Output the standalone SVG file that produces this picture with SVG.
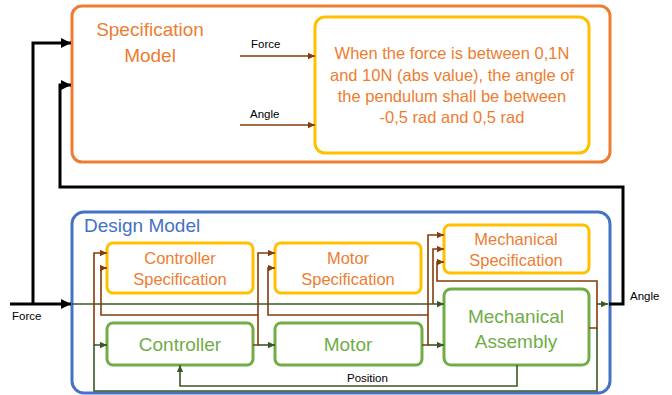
<svg xmlns="http://www.w3.org/2000/svg" width="672" height="395" viewBox="0 0 672 395">
<style>
  text { font-family: "Liberation Sans", Arial, sans-serif; }
  .orange { fill: none; stroke: #ED7D31; stroke-width: 3; }
  .yellow { fill: none; stroke: #FFC000; stroke-width: 3; }
  .green { fill: none; stroke: #70AD47; stroke-width: 3; }
  .blue { fill: none; stroke: #4472C4; stroke-width: 3; }
  .t-orange { fill: #ED7D31; text-anchor: middle; }
  .t-green { fill: #70AD47; text-anchor: middle; font-size: 19px; }
  .spec { font-size: 16.5px; }
  .lbl { fill: #000; font-size: 11.5px; }
  .blk { fill: none; stroke: #000; stroke-width: 3; }
  .brn { fill: none; stroke: #843C0C; stroke-width: 1.6; }
  .grn { fill: none; stroke: #385723; stroke-width: 1.6; }
</style>
<defs>
  <marker id="ak" viewBox="0 0 10 10" refX="10" refY="5" markerWidth="10" markerHeight="10" markerUnits="userSpaceOnUse" orient="auto">
    <path d="M0,0 L10,5 L0,10 z" fill="#000"/>
  </marker>
  <marker id="ab" viewBox="0 0 10 10" refX="10" refY="5" markerWidth="7" markerHeight="7" markerUnits="userSpaceOnUse" orient="auto">
    <path d="M0,0.5 L10,5 L0,9.5 z" fill="#843C0C"/>
  </marker>
  <marker id="ag" viewBox="0 0 10 10" refX="10" refY="5" markerWidth="7" markerHeight="7" markerUnits="userSpaceOnUse" orient="auto">
    <path d="M0,0.5 L10,5 L0,9.5 z" fill="#385723"/>
  </marker>
</defs>

<g id="specification-model">
  <rect class="orange" x="72" y="6" width="538" height="156" rx="10"/>
  <text class="t-orange" x="150" y="36" font-size="19">Specification</text>
  <text class="t-orange" x="150" y="62" font-size="19">Model</text>
</g>
<g id="requirement">
  <rect class="yellow" x="315" y="17" width="274" height="136" rx="10"/>
  <text class="t-orange" x="452" y="59" font-size="16.5">When the force is between 0,1N</text>
  <text class="t-orange" x="452" y="81" font-size="16.5">and 10N (abs value), the angle of</text>
  <text class="t-orange" x="452" y="102" font-size="16.5">the pendulum shall be between</text>
  <text class="t-orange" x="452" y="123" font-size="16.5">-0,5 rad and 0,5 rad</text>
</g>

<g id="design-model">
  <rect class="blue" x="72" y="212" width="538" height="181" rx="12"/>
  <text x="84" y="232" font-size="19" fill="#4472C4">Design Model</text>
</g>
<g id="controller-specification">
  <rect class="yellow" x="107" y="243" width="146" height="50" rx="6"/>
  <text class="t-orange spec" x="180" y="264">Controller</text>
  <text class="t-orange spec" x="180" y="285">Specification</text>
</g>
<g id="motor-specification">
  <rect class="yellow" x="275" y="243" width="146" height="50" rx="6"/>
  <text class="t-orange spec" x="348" y="264">Motor</text>
  <text class="t-orange spec" x="348" y="285">Specification</text>
</g>
<g id="mechanical-specification">
  <rect class="yellow" x="444" y="225" width="145" height="48" rx="6"/>
  <text class="t-orange spec" x="516" y="245">Mechanical</text>
  <text class="t-orange spec" x="516" y="266">Specification</text>
</g>
<g id="controller">
  <rect class="green" x="107" y="323" width="146" height="42" rx="6"/>
  <text class="t-green" x="180" y="351">Controller</text>
</g>
<g id="motor">
  <rect class="green" x="275" y="323" width="147" height="42" rx="6"/>
  <text class="t-green" x="348" y="351">Motor</text>
</g>
<g id="mechanical-assembly">
  <rect class="green" x="444" y="289" width="145" height="76" rx="7"/>
  <text class="t-green" x="516" y="323">Mechanical</text>
  <text class="t-green" x="516" y="348">Assembly</text>
</g>

<g id="connectors">
  <path class="blk" d="M10,304 H71" marker-end="url(#ak)"/>
  <path class="blk" d="M33,304 V43 H71" marker-end="url(#ak)"/>
  <path class="blk" d="M609,304 H623 V187 H60 V85 H71" marker-end="url(#ak)"/>

  <path class="brn" d="M240,56 H315" marker-end="url(#ab)"/>
  <path class="brn" d="M240,125 H315" marker-end="url(#ab)"/>
  <path class="brn" d="M94,345 V253 H107" marker-end="url(#ab)"/>
  <path class="brn" d="M253,345 H258 V253 H275" marker-end="url(#ab)"/>
  <path class="brn" d="M258,315 H101 V268 H107" marker-end="url(#ab)"/>
  <path class="brn" d="M422,345 H428 V235 H444" marker-end="url(#ab)"/>
  <path class="brn" d="M428,315 H268 V268 H275" marker-end="url(#ab)"/>
  <path class="brn" d="M433,304 V249 H444" marker-end="url(#ab)"/>
  <path class="brn" d="M589,328 H597 V281 H437 V262 H444" marker-end="url(#ab)"/>

  <path class="grn" d="M72,304 H444" marker-end="url(#ag)"/>
  <path class="grn" d="M258,345 H275" marker-end="url(#ag)"/>
  <path class="grn" d="M428,345 H444" marker-end="url(#ag)"/>
  <path class="grn" d="M597,304 H608" marker-end="url(#ag)"/>
  <path class="grn" d="M597,328 V391 H94 V345 H107" marker-end="url(#ag)"/>
  <path class="grn" d="M517,365 V386 H180 V365" marker-end="url(#ag)"/>

  <text class="lbl" x="251" y="48">Force</text>
  <text class="lbl" x="250" y="118">Angle</text>
  <text class="lbl" x="12" y="320">Force</text>
  <text class="lbl" x="630" y="300">Angle</text>
  <text class="lbl" x="347" y="382">Position</text>
</g>
</svg>
